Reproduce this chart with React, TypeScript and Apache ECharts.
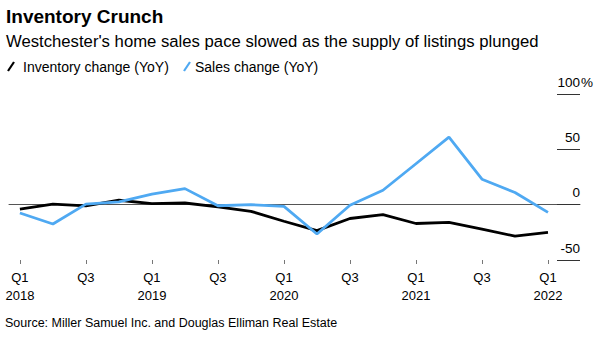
import React, { useEffect, useRef } from "react";
import * as echarts from "echarts";

const quarters = [
  "Q1 2018", "Q2 2018", "Q3 2018", "Q4 2018",
  "Q1 2019", "Q2 2019", "Q3 2019", "Q4 2019",
  "Q1 2020", "Q2 2020", "Q3 2020", "Q4 2020",
  "Q1 2021", "Q2 2021", "Q3 2021", "Q4 2021",
  "Q1 2022",
];
const inventoryChange = [-4, 0.5, -1, 4, 1, 1.5, -2, -6, -15, -23.5, -12.5, -9, -17, -16, -22, -28.5, -25];
const salesChange = [-7.5, -17.5, 0.5, 2.5, 9.5, 14.5, -1, 0, -1.5, -26.5, -0.5, 13, 37, 61, 23, 11, -7];
const xTickIndex = [0, 2, 4, 6, 8, 10, 12, 14, 16];
const xTickLabels = ["Q1\n2018", "Q3", "Q1\n2019", "Q3", "Q1\n2020", "Q3", "Q1\n2021", "Q3", "Q1\n2022"];
const yTicks = [-50, 0, 50, 100];

const FONT = "'Liberation Sans', Arial, Helvetica, sans-serif";
const BLUE = "#4fa9f2";

export default function App() {
  const ref = useRef<HTMLDivElement>(null);
  useEffect(() => {
    document.body.style.margin = "0";
    if (!ref.current) return;
    const chart = echarts.init(ref.current, undefined, { renderer: "svg" });
    const invData = inventoryChange.map((v, i) => [i, v]);
    const salesData = salesChange.map((v, i) => [i, v]);
    chart.setOption({
      animation: false,
      textStyle: { fontFamily: FONT },
      graphic: [
        {
          type: "text",
          x: 6,
          y: 16.5,
          style: { text: "Inventory Crunch", font: `bold 19px ${FONT}`, fill: "#000", verticalAlign: "middle" },
        },
        {
          type: "text",
          x: 6,
          y: 41,
          style: {
            text: "Westchester's home sales pace slowed as the supply of listings plunged",
            font: `16.7px ${FONT}`,
            fill: "#000",
            verticalAlign: "middle",
          },
        },
        { type: "line", shape: { x1: 8, y1: 71, x2: 14, y2: 62 }, style: { stroke: "#000", lineWidth: 2.2 } },
        {
          type: "text",
          x: 23,
          y: 66.5,
          style: { text: "Inventory change (YoY)", font: `14px ${FONT}`, fill: "#000", verticalAlign: "middle" },
        },
        { type: "line", shape: { x1: 184, y1: 71, x2: 190, y2: 62 }, style: { stroke: BLUE, lineWidth: 2.2 } },
        {
          type: "text",
          x: 195,
          y: 66.5,
          style: { text: "Sales change (YoY)", font: `14px ${FONT}`, fill: "#000", verticalAlign: "middle" },
        },
        {
          type: "text",
          x: 5,
          y: 323,
          style: {
            text: "Source: Miller Samuel Inc. and Douglas Elliman Real Estate",
            font: `12.5px ${FONT}`,
            fill: "#000",
            verticalAlign: "middle",
          },
        },
        {
          type: "text",
          x: 581,
          y: 89,
          style: { text: "%", font: `13.5px ${FONT}`, fill: "#000", verticalAlign: "bottom" },
        },
      ],
      grid: { left: 9, right: 20, top: 94, bottom: 80 },
      xAxis: [
        {
          type: "value",
          min: -0.33,
          max: 16.97,
          position: "bottom",
          axisLine: { show: false, onZero: false },
          splitLine: { show: false },
          axisTick: {
            show: true,
            length: 4,
            customValues: xTickIndex,
            lineStyle: { color: "#777", width: 1 },
          },
          axisLabel: {
            customValues: xTickIndex,
            margin: 9,
            fontSize: 13,
            lineHeight: 17.5,
            color: "#000",
            fontFamily: FONT,
            hideOverlap: false,
            formatter: (v: number) => {
              const k = xTickIndex.indexOf(Math.round(v));
              return k >= 0 ? xTickLabels[k] : "";
            },
          },
        },
        {
          type: "value",
          min: -0.33,
          max: 16.97,
          position: "top",
          axisLine: { show: true, onZero: true, lineStyle: { color: "#555", width: 1 } },
          axisTick: { show: false },
          axisLabel: { show: false },
          splitLine: { show: false },
        },
      ],
      yAxis: {
        type: "value",
        position: "right",
        min: yTicks[0],
        max: yTicks[yTicks.length - 1],
        interval: 50,
        axisLine: { show: false, onZero: false },
        splitLine: { show: false },
        axisTick: { show: true, inside: true, length: 23, lineStyle: { color: "#333", width: 1 } },
        axisLabel: {
          inside: true,
          margin: 0,
          fontSize: 13.5,
          color: "#000",
          fontFamily: FONT,
          verticalAlign: "bottom",
          padding: [0, 0, 5, 0],
          formatter: (v: number) => String(v),
        },
      },
      series: [
        {
          name: "Inventory change (YoY)",
          type: "line",
          data: invData,
          xAxisIndex: 0,
          showSymbol: false,
          symbol: "none",
          lineStyle: { color: "#000", width: 2.8 },
          z: 3,
        },
        {
          name: "Sales change (YoY)",
          type: "line",
          data: salesData,
          xAxisIndex: 0,
          showSymbol: false,
          symbol: "none",
          lineStyle: { color: BLUE, width: 2.8 },
          z: 4,
        },
      ],
    });
    return () => chart.dispose();
  }, []);
  return <div ref={ref} style={{ width: 600, height: 340 }} />;
}
